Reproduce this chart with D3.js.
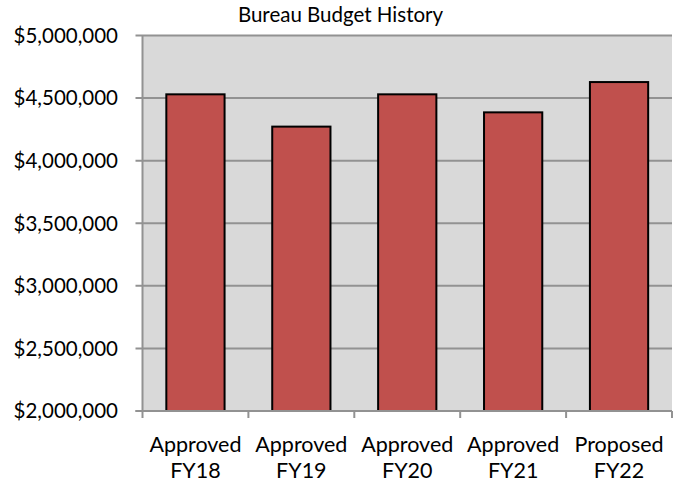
<!DOCTYPE html>
<html>
<head>
<meta charset="utf-8">
<script src="https://cdn.jsdelivr.net/npm/d3@7/dist/d3.min.js"></script>
<style>
  html, body { margin: 0; padding: 0; background: #ffffff; }
  svg { display: block; }
  text { font-family: Lato, "Open Sans", sans-serif; fill: #000; }
</style>
</head>
<body>
<svg id="chart" width="681" height="485"></svg>
<script>
// Budget by fiscal year
const categoryStatus = ["Approved", "Approved", "Approved", "Approved", "Proposed"];
const categoryYears = ["FY18", "FY19", "FY20", "FY21", "FY22"];
const budgetValues = [4530000, 4272000, 4530000, 4386000, 4628000];
const yTickValues = [2000000, 2500000, 3000000, 3500000, 4000000, 4500000, 5000000];
const chartTitle = "Bureau Budget History";

const svg = d3.select("#chart");
const plot = { left: 142.5, right: 672, top: 35.5, bottom: 411 };
const categories = categoryYears.map((y, i) => categoryStatus[i] + " " + y);

const x = d3.scaleBand()
  .domain(categories)
  .range([plot.left, plot.right])
  .paddingInner(0.45)
  .paddingOuter(0.225);

const y = d3.scaleLinear()
  .domain([2000000, 5000000])
  .range([plot.bottom, plot.top]);

// plot background
svg.append("rect")
  .attr("x", plot.left).attr("y", plot.top)
  .attr("width", plot.right - plot.left)
  .attr("height", plot.bottom - plot.top)
  .attr("fill", "#d9d9d9");

// horizontal gridlines, extended left as outward ticks
const fmt = v => "$" + d3.format(",")(v);
svg.append("g").selectAll("line")
  .data(yTickValues)
  .join("line")
  .attr("x1", plot.left - 7)
  .attr("x2", plot.right)
  .attr("y1", d => y(d))
  .attr("y2", d => y(d))
  .attr("stroke", "#929292")
  .attr("stroke-width", 2);

// y tick labels
svg.append("g").selectAll("text")
  .data(yTickValues)
  .join("text")
  .attr("x", 118)
  .attr("y", d => y(d))
  .attr("dy", "0.36em")
  .attr("text-anchor", "end")
  .attr("font-size", 20.5)
  .text(fmt);

// left axis line
svg.append("line")
  .attr("x1", plot.left).attr("x2", plot.left)
  .attr("y1", plot.top).attr("y2", plot.bottom)
  .attr("stroke", "#929292").attr("stroke-width", 2);

// bars
svg.append("g").selectAll("rect")
  .data(budgetValues)
  .join("rect")
  .attr("x", (d, i) => x(categories[i]))
  .attr("y", d => y(d))
  .attr("width", x.bandwidth())
  .attr("height", d => y(2000000) - y(d))
  .attr("fill", "#c0504d")
  .attr("stroke", "#000")
  .attr("stroke-width", 2);

// bottom axis line and category boundary ticks
svg.append("line")
  .attr("x1", plot.left - 7).attr("x2", plot.right)
  .attr("y1", plot.bottom).attr("y2", plot.bottom)
  .attr("stroke", "#929292").attr("stroke-width", 2);
const step = x.step();
const boundaries = d3.range(categories.length + 1).map(i => plot.left + i * step);
svg.append("g").selectAll("line")
  .data(boundaries)
  .join("line")
  .attr("x1", d => d).attr("x2", d => d)
  .attr("y1", plot.bottom).attr("y2", plot.bottom + 7)
  .attr("stroke", "#929292").attr("stroke-width", 2);

// category labels (two lines)
const labels = svg.append("g").selectAll("text")
  .data(categories)
  .join("text")
  .attr("text-anchor", "middle")
  .attr("font-size", 21.5);
labels.append("tspan")
  .attr("x", d => x(d) + x.bandwidth() / 2)
  .attr("y", 452)
  .text((d, i) => categoryStatus[i]);
labels.append("tspan")
  .attr("x", d => x(d) + x.bandwidth() / 2)
  .attr("y", 478)
  .text((d, i) => categoryYears[i]);

// title
svg.append("text")
  .attr("x", 340.5)
  .attr("y", 21.5)
  .attr("text-anchor", "middle")
  .attr("font-size", 20.5)
  .text(chartTitle);
</script>
</body>
</html>
